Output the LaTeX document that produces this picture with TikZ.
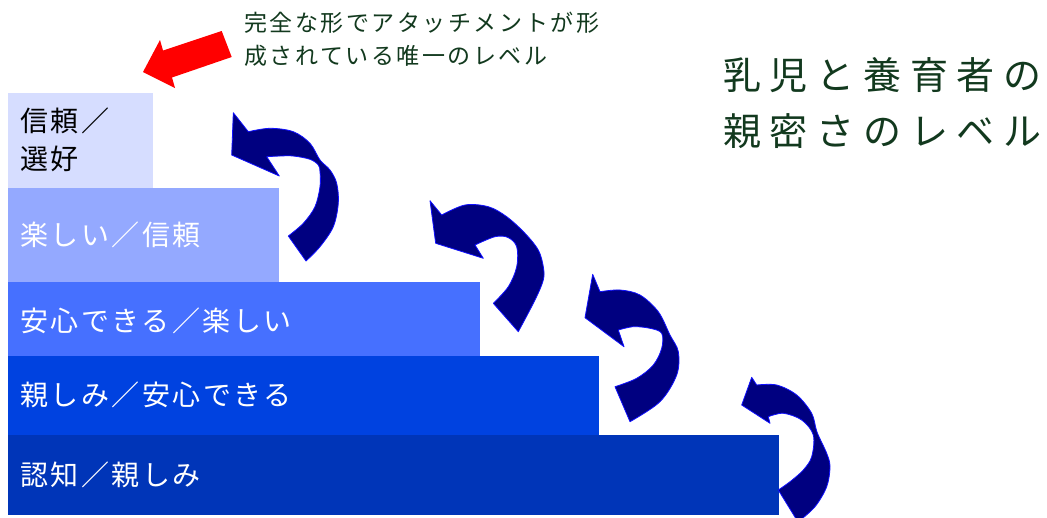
\documentclass[tikz,border=0pt]{standalone}
\usepackage{fontspec}
\newfontfamily\jpbar[LetterSpace=9]{Noto Sans CJK JP}
\newfontfamily\jpnote[LetterSpace=11]{Noto Sans CJK JP}
\newfontfamily\jptitle[LetterSpace=23]{Noto Sans CJK JP}
\definecolor{navyA}{HTML}{000080}
\definecolor{blueB}{HTML}{1010FF}
\definecolor{redA}{HTML}{FF0000}
\definecolor{cA}{HTML}{D6DDFF}
\definecolor{cB}{HTML}{94A9FF}
\definecolor{cC}{HTML}{4670FF}
\definecolor{cD}{HTML}{0042E0}
\definecolor{cE}{HTML}{0035B8}
\definecolor{titleG}{HTML}{12391E}
\begin{document}
\begin{tikzpicture}[x=1pt,y=-1pt,
  bar/.style={draw=none, inner sep=0pt, outer sep=0pt, anchor=north west},
  lbl/.style={anchor=west, inner sep=0pt, font=\jpbar\fontsize{28}{38}\selectfont, text=white, align=left},
  curv/.style={fill=navyA, draw=blueB, line width=0.8pt, line join=round},
  smoothp/.style={smooth, tension=0.55}
]
\useasboundingbox (0,0) rectangle (1047,517);
\clip (0,0) rectangle (1047,517);

% bars
\node[bar, fill=cA, minimum width=145pt, minimum height=96pt] (b1) at (8,93) {};
\node[bar, fill=cB, minimum width=271pt, minimum height=95pt] (b2) at (8,188) {};
\node[bar, fill=cC, minimum width=472pt, minimum height=75pt] (b3) at (8,282) {};
\node[bar, fill=cD, minimum width=591pt, minimum height=80pt] (b4) at (8,356) {};
\node[bar, fill=cE, minimum width=771pt, minimum height=80pt] (b5) at (8,435) {};

% labels
\node[lbl, text=black] (t1) at (20,139.5) {信頼／\\選好};
\node[lbl] (t2) at (20,235) {楽しい／信頼};
\node[lbl] (t3) at (20,321) {安心できる／楽しい};
\node[lbl] (t4) at (20,394.5) {親しみ／安心できる};
\node[lbl] (t5) at (20,475) {認知／親しみ};

% title
\node[anchor=west, inner sep=0pt, align=left, text=titleG,
      font=\jptitle\fontsize{38}{56}\selectfont] (title) at (723,103) {乳児と養育者の\\親密さのレベル};

% callout
\node[anchor=west, inner sep=0pt, align=left, text=titleG,
      font=\jpnote\fontsize{23}{33}\selectfont] (note) at (244,39.5) {完全な形でアタッチメントが形\\成されている唯一のレベル};

% red arrow
\fill[redA] (221.7,31) -- (163,50.5) -- (160,40) -- (143,72) -- (175,88) -- (172,77.5) -- (231.7,57) -- cycle;

% curved arrow 1
\filldraw[curv] (306,261)
  -- plot[smoothp] coordinates {(306,261) (320,246.7) (333.3,226.7) (338.3,203.3) (336.7,183.3) (330,170) (320,160) (310,143.3) (293.3,131.7) (270,128.3) (248.3,131.7)}
  -- (233.3,112.7) -- (231.7,155) -- (279.3,176) -- (266.7,156.7)
  -- plot[smoothp] coordinates {(266.7,156.7) (280,156) (293.3,156) (310,159.3) (318.3,165) (320,171.7) (320,186.7) (315,206.7) (303.3,223.3) (288.3,236)}
  -- cycle;

% curved arrow 2
\filldraw[curv] (518.3,331.7)
  -- plot[smoothp] coordinates {(518.3,331.7) (535,300) (543.3,280) (543.3,266.7) (538.3,250) (525,233.3) (506.7,216.7) (488.3,206.7) (465,205) (441.7,215)}
  -- (430,200.7) -- (435.7,243.3) -- (483.3,258.3) -- (475,245)
  -- plot[smoothp] coordinates {(475,245) (495,236.7) (508,237.5) (516.7,246.7) (516.7,266.7) (508.3,286.7) (493.3,303.3)}
  -- cycle;

% curved arrow 3
\filldraw[curv] (630,421.7)
  -- plot[smoothp] coordinates {(630,421.7) (660,401.7) (676.7,375) (678.3,351.7) (670,335) (658.3,311.7) (640,295) (620,290) (600,291.7)}
  -- (592.7,274.3) -- (585,317.7) -- (624,346.7) -- (618.3,330)
  -- plot[smoothp] coordinates {(618.3,330) (633.3,326.7) (650,328.3) (661.7,333.3) (661.7,348.3) (653.3,365) (636.7,378.3) (615,386.7)}
  -- cycle;

% curved arrow 4
\filldraw[curv] (798,522)
  -- plot[smoothp] coordinates {(798,522) (815,506.7) (826.7,486.7) (830,466.7) (826.7,453.3) (817,432) (811.7,413.3) (796.7,395) (776.7,385) (756.7,385)}
  -- (751.7,377.3) -- (741.7,405) -- (770,423.3) -- (768.3,416.7)
  -- plot[smoothp] coordinates {(768.3,416.7) (783.3,413.3) (801.7,420) (813.3,435) (811.7,456.7) (803.3,470) (790,481.7) (778.3,490)}
  -- cycle;
\end{tikzpicture}
\end{document}
